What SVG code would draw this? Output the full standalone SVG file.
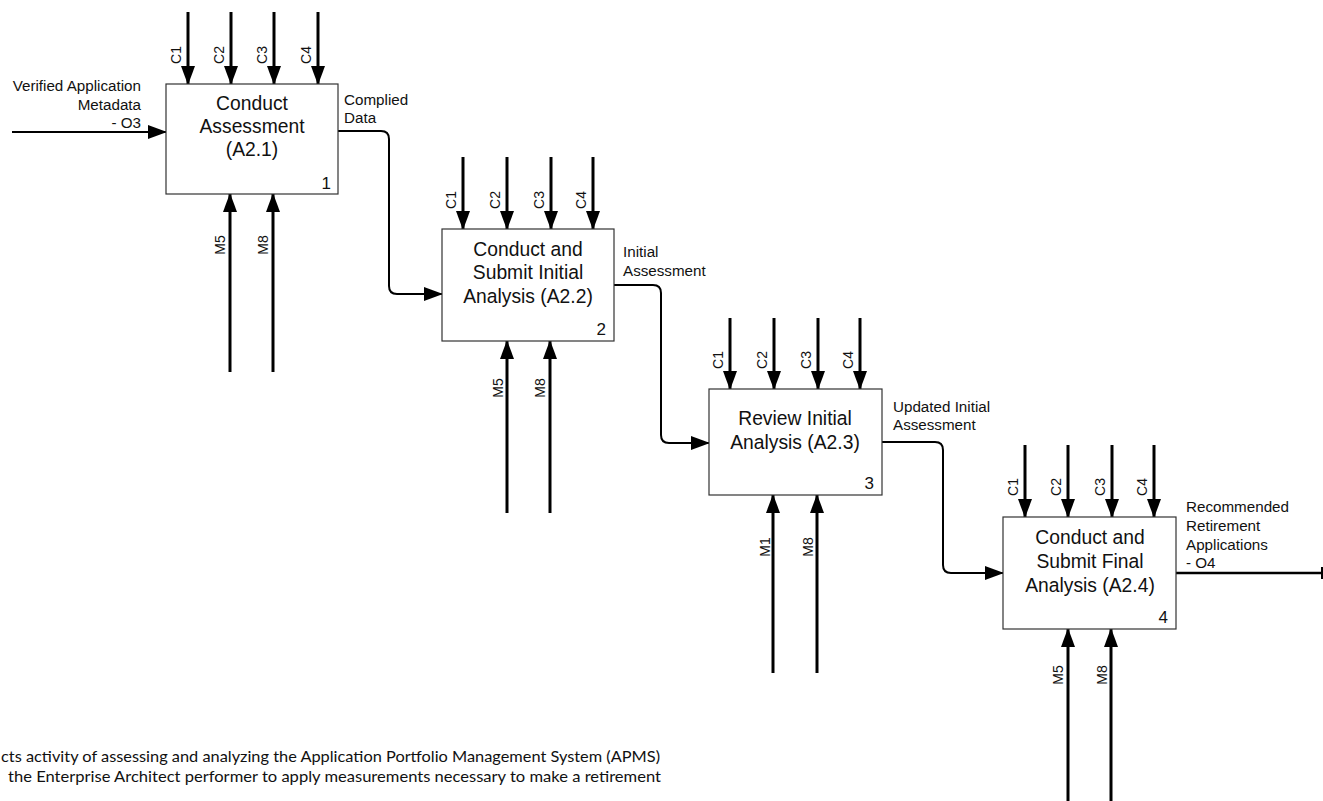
<svg xmlns="http://www.w3.org/2000/svg" width="1323" height="801" viewBox="0 0 1323 801">
  <defs>
    <marker id="arrow" markerUnits="userSpaceOnUse" markerWidth="19" markerHeight="14" viewBox="0 0 19 14" refX="18" refY="7" orient="auto">
      <path d="M0,0 L19,7 L0,14 z" fill="#000"/>
    </marker>
  </defs>
  <style>
    .box { fill: #fff; stroke: #333; stroke-width: 1.2; }
    .title { font-family: "Liberation Sans", Arial, sans-serif; font-size: 19.3px; fill: #111; text-anchor: middle; }
    .num { font-family: "Liberation Sans", Arial, sans-serif; font-size: 17px; fill: #111; text-anchor: end; }
    .lbl { font-family: "Liberation Sans", Arial, sans-serif; font-size: 15.2px; fill: #111; }
    .tag { font-family: "Liberation Sans", Arial, sans-serif; font-size: 14px; fill: #111; text-anchor: middle; dominant-baseline: central; }
    .ctl { fill: none; stroke: #000; stroke-width: 3; marker-end: url(#arrow); }
    .flow { fill: none; stroke: #000; stroke-width: 2; marker-end: url(#arrow); }
    .note { font-family: Lato, "Open Sans", sans-serif; font-size: 15px; fill: #111; }
  </style>

  <!-- connectors: inputs, outputs, controls, mechanisms -->
  <g id="connectors">
    <!-- input to A2.1 -->
    <path class="flow" d="M12,132 H166"/>
    <!-- A2.1 -> A2.2 -->
    <path class="flow" d="M338,131 H381 Q389,131 389,139 V286 Q389,294 397,294 H442"/>
    <!-- A2.2 -> A2.3 -->
    <path class="flow" d="M614,285 H653 Q661,285 661,293 V435 Q661,443 669,443 H709"/>
    <!-- A2.3 -> A2.4 -->
    <path class="flow" d="M882,442 H935 Q943,442 943,450 V565 Q943,573 951,573 H1003"/>
    <!-- output of A2.4 -->
    <path d="M1176,573 H1323" stroke="#000" stroke-width="2.5" fill="none"/>
    <line x1="1322" y1="567" x2="1322" y2="579" stroke="#000" stroke-width="2"/>

    <!-- controls A2.1 -->
    <path class="ctl" d="M188,12 V84"/>
    <path class="ctl" d="M231,12 V84"/>
    <path class="ctl" d="M274,12 V84"/>
    <path class="ctl" d="M318,12 V84"/>
    <!-- mechanisms A2.1 -->
    <path class="ctl" d="M230,372 V194"/>
    <path class="ctl" d="M273,372 V194"/>

    <!-- controls A2.2 -->
    <path class="ctl" d="M463,157 V229"/>
    <path class="ctl" d="M507,157 V229"/>
    <path class="ctl" d="M551,157 V229"/>
    <path class="ctl" d="M593,157 V229"/>
    <!-- mechanisms A2.2 -->
    <path class="ctl" d="M507,513 V341"/>
    <path class="ctl" d="M550,513 V341"/>

    <!-- controls A2.3 -->
    <path class="ctl" d="M730,318 V389"/>
    <path class="ctl" d="M774,318 V389"/>
    <path class="ctl" d="M818,318 V389" stroke-width="2.2"/>
    <path class="ctl" d="M860,318 V389" stroke-width="2.2"/>
    <!-- mechanisms A2.3 -->
    <path class="ctl" d="M773,673 V495"/>
    <path class="ctl" d="M817,673 V495"/>

    <!-- controls A2.4 -->
    <path class="ctl" d="M1025,445 V517" stroke-width="2.2"/>
    <path class="ctl" d="M1068,445 V517"/>
    <path class="ctl" d="M1112,445 V517" stroke-width="2.2"/>
    <path class="ctl" d="M1154,445 V517" stroke-width="2.2"/>
    <!-- mechanisms A2.4 -->
    <path class="ctl" d="M1068,805 V629"/>
    <path class="ctl" d="M1111,805 V629"/>
  </g>

  <!-- arrow labels -->
  <g id="labels">
    <text class="lbl" text-anchor="end" x="141" y="91">Verified Application</text>
    <text class="lbl" text-anchor="end" x="141" y="110">Metadata</text>
    <text class="lbl" text-anchor="end" x="141" y="128">- O3</text>

    <text class="lbl" x="344" y="105">Complied</text>
    <text class="lbl" x="344" y="123">Data</text>

    <text class="lbl" x="623" y="257">Initial</text>
    <text class="lbl" x="623" y="276">Assessment</text>

    <text class="lbl" x="893" y="412">Updated Initial</text>
    <text class="lbl" x="893" y="430">Assessment</text>

    <text class="lbl" x="1186" y="512">Recommended</text>
    <text class="lbl" x="1186" y="531">Retirement</text>
    <text class="lbl" x="1186" y="550">Applications</text>
    <text class="lbl" x="1186" y="568">- O4</text>

    <!-- control tags -->
    <text class="tag" transform="translate(176,55) rotate(-90)">C1</text>
    <text class="tag" transform="translate(219,55) rotate(-90)">C2</text>
    <text class="tag" transform="translate(262,55) rotate(-90)">C3</text>
    <text class="tag" transform="translate(306,55) rotate(-90)">C4</text>

    <text class="tag" transform="translate(451,200) rotate(-90)">C1</text>
    <text class="tag" transform="translate(495,200) rotate(-90)">C2</text>
    <text class="tag" transform="translate(539,200) rotate(-90)">C3</text>
    <text class="tag" transform="translate(581,200) rotate(-90)">C4</text>

    <text class="tag" transform="translate(718,360) rotate(-90)">C1</text>
    <text class="tag" transform="translate(762,360) rotate(-90)">C2</text>
    <text class="tag" transform="translate(806,360) rotate(-90)">C3</text>
    <text class="tag" transform="translate(848,360) rotate(-90)">C4</text>

    <text class="tag" transform="translate(1013,487) rotate(-90)">C1</text>
    <text class="tag" transform="translate(1056,487) rotate(-90)">C2</text>
    <text class="tag" transform="translate(1100,487) rotate(-90)">C3</text>
    <text class="tag" transform="translate(1142,487) rotate(-90)">C4</text>

    <!-- mechanism tags -->
    <text class="tag" transform="translate(220,245) rotate(-90)">M5</text>
    <text class="tag" transform="translate(263,245) rotate(-90)">M8</text>

    <text class="tag" transform="translate(498,388) rotate(-90)">M5</text>
    <text class="tag" transform="translate(540,388) rotate(-90)">M8</text>

    <text class="tag" transform="translate(765,547) rotate(-90)">M1</text>
    <text class="tag" transform="translate(808,547) rotate(-90)">M8</text>

    <text class="tag" transform="translate(1058,675) rotate(-90)">M5</text>
    <text class="tag" transform="translate(1102,675) rotate(-90)">M8</text>
  </g>

  <!-- activity boxes -->
  <g id="A2.1">
    <rect class="box" x="166" y="84" width="172" height="110"/>
    <text class="title" x="252" y="110">Conduct</text>
    <text class="title" x="252" y="133">Assessment</text>
    <text class="title" x="252" y="156">(A2.1)</text>
    <text class="num" x="331" y="189">1</text>
  </g>

  <g id="A2.2">
    <rect class="box" x="442" y="229" width="172" height="112"/>
    <text class="title" x="528" y="256">Conduct and</text>
    <text class="title" x="528" y="279">Submit Initial</text>
    <text class="title" x="528" y="303">Analysis (A2.2)</text>
    <text class="num" x="606" y="335">2</text>
  </g>

  <g id="A2.3">
    <rect class="box" x="709" y="389" width="173" height="106"/>
    <text class="title" x="795" y="425">Review Initial</text>
    <text class="title" x="795" y="449">Analysis (A2.3)</text>
    <text class="num" x="874" y="489">3</text>
  </g>

  <g id="A2.4">
    <rect class="box" x="1003" y="517" width="173" height="112"/>
    <text class="title" x="1090" y="544">Conduct and</text>
    <text class="title" x="1090" y="568">Submit Final</text>
    <text class="title" x="1090" y="592">Analysis (A2.4)</text>
    <text class="num" x="1168" y="623">4</text>
  </g>

  <!-- description -->
  <g id="description">
    <text class="note" x="1" y="762" textLength="659" lengthAdjust="spacingAndGlyphs">cts activity of assessing and analyzing the Application Portfolio Management System (APMS)</text>
    <text class="note" x="8" y="782" textLength="653" lengthAdjust="spacingAndGlyphs">the Enterprise Architect performer to apply measurements necessary to make a retirement</text>
  </g>
</svg>
